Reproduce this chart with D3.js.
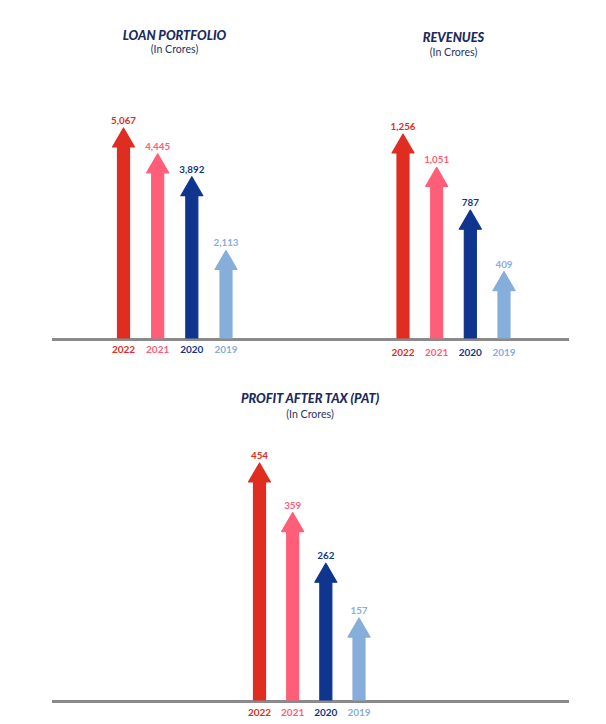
<!DOCTYPE html>
<html>
<head>
<meta charset="utf-8">
<script src="https://cdn.jsdelivr.net/npm/d3@7"></script>
<style>
  html, body { margin: 0; padding: 0; background: #fff; }
  svg { display: block; }
</style>
</head>
<body>
<svg id="chart" width="606" height="724"></svg>
<script>
// ---- data ----
const years = ["2022", "2021", "2020", "2019"];
const loanPortfolio = [5067, 4445, 3892, 2113];
const revenues = [1256, 1051, 787, 409];
const pat = [454, 359, 262, 157];
const titles = ["LOAN PORTFOLIO", "REVENUES", "PROFIT AFTER TAX (PAT)"];
const subtitle = "(In Crores)";
const colors = ["#DF2D21", "#FF5E78", "#0F358F", "#86AEDA"];

// ---- layout ----
const svg = d3.select("#chart");
const FONT = "Lato, 'Open Sans', sans-serif";

const panels = [
  { values: loanPortfolio, title: titles[0], cx: 174.5, titleY: 39.5, subY: 53, baseY: 339.5,
    xRange: [123.5, 226], hRange: 210, yearY: 353 },
  { values: revenues, title: titles[1], cx: 453.5, titleY: 41.5, subY: 56, baseY: 339.5,
    xRange: [403, 504], hRange: 204, yearY: 355.5 },
  { values: pat, title: titles[2], cx: 310, titleY: 403, subY: 417.5, baseY: 701.5,
    xRange: [259.5, 359], hRange: 237, yearY: 716 }
];

// baselines
svg.append("line")
  .attr("x1", 52).attr("x2", 569).attr("y1", 339.5).attr("y2", 339.5)
  .attr("stroke", "#8A8A8A").attr("stroke-width", 3);
svg.append("line")
  .attr("x1", 52).attr("x2", 569).attr("y1", 701.5).attr("y2", 701.5)
  .attr("stroke", "#8A8A8A").attr("stroke-width", 3);

const SHAFT = 12, HEAD_W = 22, HEAD_H = 19;

panels.forEach(p => {
  const g = svg.append("g");
  const x = d3.scalePoint().domain(years).range(p.xRange);
  const h = d3.scaleLinear().domain([0, d3.max(p.values)]).range([0, p.hRange]);
  const y = v => p.baseY - 1.5 - h(v);

  g.append("text")
    .attr("x", p.cx).attr("y", p.titleY)
    .attr("text-anchor", "middle")
    .attr("font-family", FONT).attr("font-weight", 900).attr("font-style", "italic")
    .attr("font-size", 12.8).attr("fill", "#1B2A5E")
    .text(p.title);
  g.append("text")
    .attr("x", p.cx).attr("y", p.subY)
    .attr("text-anchor", "middle")
    .attr("font-family", FONT).attr("font-size", 10.6).attr("fill", "#2B3268")
    .text(subtitle);

  const data = years.map((yr, i) => ({ yr, v: p.values[i], c: colors[i] }));

  // arrows
  g.selectAll("path.arrow").data(data).enter().append("path")
    .attr("class", "arrow")
    .attr("fill", d => d.c)
    .attr("stroke", d => d.c).attr("stroke-width", 1.2).attr("stroke-linejoin", "round")
    .attr("d", d => {
      const cx = x(d.yr), tip = y(d.v), hb = tip + HEAD_H, base = p.baseY - 1.5;
      return `M${cx - SHAFT / 2},${base} L${cx - SHAFT / 2},${hb} L${cx - HEAD_W / 2},${hb} ` +
             `L${cx},${tip} L${cx + HEAD_W / 2},${hb} L${cx + SHAFT / 2},${hb} L${cx + SHAFT / 2},${base} Z`;
    });

  // value labels
  g.selectAll("text.val").data(data).enter().append("text")
    .attr("class", "val")
    .attr("x", d => x(d.yr)).attr("y", d => y(d.v) - 4)
    .attr("text-anchor", "middle")
    .attr("font-family", FONT).attr("font-weight", 700).attr("font-size", 9.8)
    .attr("fill", d => d.c)
    .text(d => d3.format(",")(d.v));

  // year labels
  g.selectAll("text.yr").data(data).enter().append("text")
    .attr("class", "yr")
    .attr("x", d => x(d.yr)).attr("y", p.yearY)
    .attr("text-anchor", "middle")
    .attr("font-family", FONT).attr("font-weight", 700).attr("font-size", 10)
    .attr("fill", d => d.c)
    .text(d => d.yr);
});
</script>
</body>
</html>
